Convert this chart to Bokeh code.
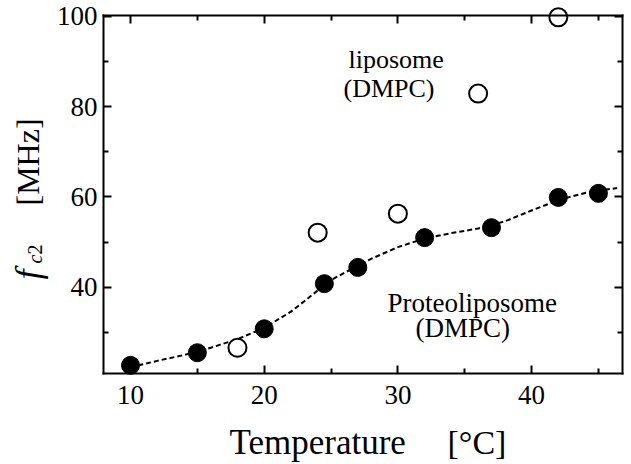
import math
from bokeh.plotting import figure
from bokeh.models import Label, LinearAxis, FixedTicker, Range1d
from bokeh.embed import file_html
from bokeh.resources import INLINE

# ---- data ----
proteo_temp = [10, 15, 20, 24.5, 27, 32, 37, 42, 45]
proteo_fc2 = [22.7, 25.5, 30.8, 40.8, 44.4, 51.0, 53.2, 59.9, 60.8]

lipo_temp = [18, 24, 30, 36, 42]
lipo_fc2 = [26.6, 52.1, 56.3, 82.9, 99.8]

curve_temp = [10, 12, 14, 16, 18, 20, 22, 23, 24, 25, 26, 27, 28, 30, 32, 34, 36, 38, 40, 42, 44, 46.4]
curve_fc2 = [22.3, 23.7, 25.0, 26.6, 28.5, 31.0, 34.6, 36.9, 39.3, 41.6, 43.2, 44.8, 46.3, 48.9, 50.8, 52.0, 53.0, 54.6, 57.0, 59.3, 60.9, 62.0]

x_major = [10, 20, 30, 40]
x_minor = [15, 25, 35, 45]
y_major = [40, 60, 80, 100]
y_minor = [30, 50, 70, 90]

# visible axes box in data units
X0, X1 = 7.98, 46.8
Y0, Y1 = 20.9, 100.2

# ---- layout: pixel geometry of the axes box on the canvas ----
W, H = 629, 462
FL, FR, FT, FB = 103, 622, 15, 373
SERIF = "Liberation Serif"
TXT_SHIFT = 9  # label baseline correction

sx = (FR - FL) / (X1 - X0)
sy = (FB - FT) / (Y1 - Y0)


def dx(px):
    return X0 + (px - FL) / sx


def dy(py):
    return Y0 + (FB - py) / sy


p = figure(
    width=W, height=H,
    min_border=0, min_border_left=0, min_border_right=0, min_border_top=0, min_border_bottom=0,
    x_range=Range1d(dx(0), dx(W)), y_range=Range1d(dy(H), dy(0)),
    x_axis_location=None, y_axis_location=None,
    output_backend="svg", toolbar_location=None,
)
p.background_fill_color = "white"
p.border_fill_color = "white"
p.outline_line_color = None
p.xgrid.visible = False
p.ygrid.visible = False

xt = FixedTicker(ticks=x_major, minor_ticks=x_minor)
yt = FixedTicker(ticks=y_major, minor_ticks=y_minor)


def make_axis(ticker, loc, bounds, labels=True):
    ax = LinearAxis(ticker=ticker, fixed_location=loc, bounds=bounds)
    ax.axis_line_color = "black"
    ax.axis_line_width = 2
    ax.axis_line_cap = "square"
    ax.major_tick_in = 8
    ax.major_tick_out = 0
    ax.minor_tick_in = 5
    ax.minor_tick_out = 0
    ax.major_tick_line_width = 2
    ax.minor_tick_line_width = 2
    ax.major_tick_line_color = "black"
    ax.minor_tick_line_color = "black"
    if labels:
        ax.major_label_text_font = SERIF
        ax.major_label_text_font_size = "27px"
        ax.major_label_text_color = "black"
    else:
        ax.major_label_text_color = None
        ax.major_label_standoff = 0
    return ax


bottom = make_axis(xt, Y0, (X0, X1))
bottom.major_label_standoff = 12
left = make_axis(yt, X0, (Y0, Y1))
left.major_label_standoff = 6
top = make_axis(xt, Y1, (X0, X1), labels=False)
right = make_axis(yt, X1, (Y0, Y1), labels=False)
p.add_layout(bottom, "below")
p.add_layout(left, "left")
p.add_layout(top, "above")
p.add_layout(right, "right")

# dashed fit curve
p.line(curve_temp, curve_fc2, line_color="black", line_width=2, line_dash="5 3")

# markers
p.scatter(proteo_temp, proteo_fc2, size=18, marker="circle", fill_color="black", line_color="black")
p.scatter(lipo_temp, lipo_fc2, size=18, marker="circle", fill_color="white", line_color="black", line_width=2)


def add_text(text, px, py, size, angle=0.0, style="normal"):
    if angle:
        px -= TXT_SHIFT
    else:
        py -= TXT_SHIFT
    p.add_layout(Label(x=dx(px), y=dy(py), text=text, angle=angle,
                       text_font=SERIF, text_font_size=f"{size}px", text_font_style=style,
                       text_color="black", text_align="left", text_baseline="alphabetic"))


# annotations inside the plot
add_text("liposome", 348, 68, 26)
add_text("(DMPC)", 343, 97, 26)
add_text("Proteoliposome", 387, 311, 27)
add_text("(DMPC)", 415, 336, 27)

# x axis title
add_text("Temperature", 229, 451, 35)
add_text("[°C]", 447, 451, 34)

# y axis title (rotated)
add_text("f", 36, 279, 36, angle=math.pi / 2, style="italic")
add_text("c", 43, 263, 20, angle=math.pi / 2, style="italic")
add_text("2", 43, 254, 20, angle=math.pi / 2)
add_text("[MHz]", 36, 205, 32, angle=math.pi / 2)

open("out.html", "w").write(file_html(p, INLINE))
